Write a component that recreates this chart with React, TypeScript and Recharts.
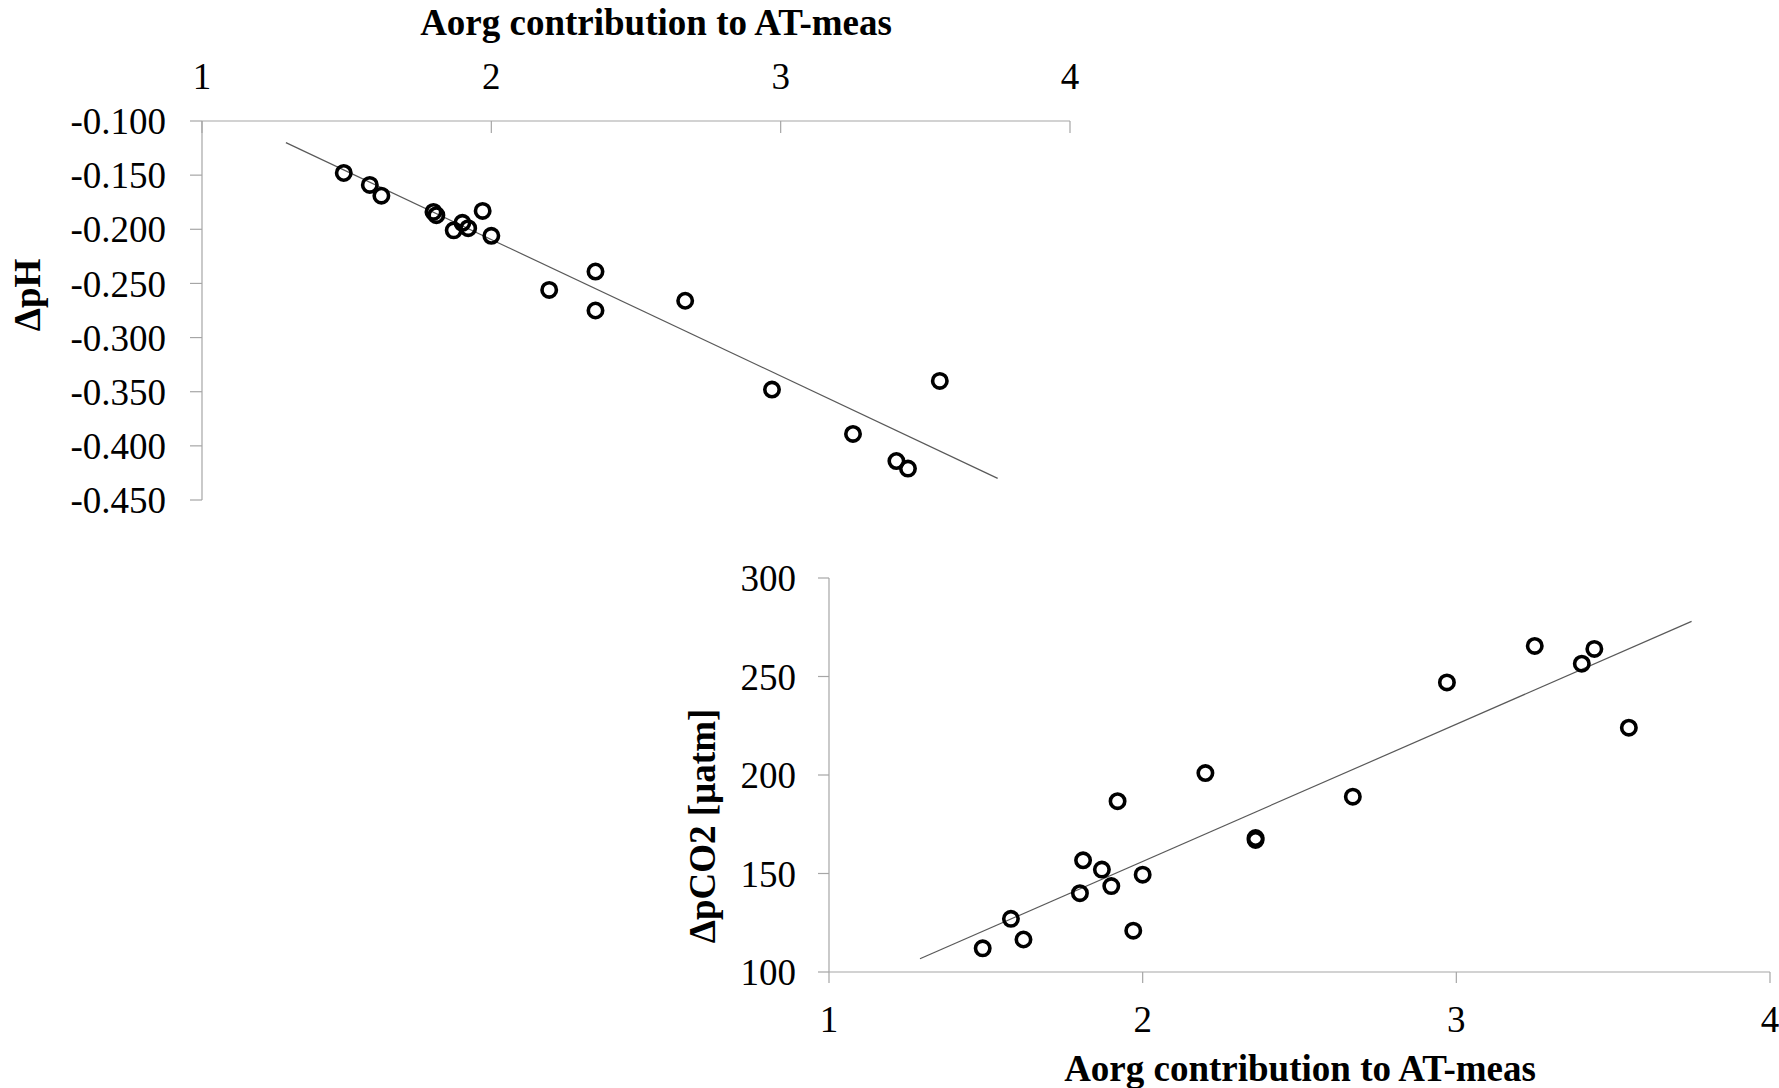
import React from 'react';
import { ScatterChart, Scatter, XAxis, YAxis, ReferenceLine } from 'recharts';

// shared x values (Aorg contribution to AT-meas)
const aorgContribution = [1.49, 1.58, 1.62, 1.80, 1.81, 1.87, 1.90, 1.92, 1.97, 2.00, 2.20, 2.36, 2.36, 2.67, 2.97, 3.25, 3.40, 3.44, 3.55];
const deltaPH = [-0.148, -0.159, -0.169, -0.184, -0.187, -0.201, -0.194, -0.199, -0.183, -0.206, -0.256, -0.239, -0.275, -0.266, -0.348, -0.389, -0.414, -0.421, -0.340];
const deltaPCO2 = [112, 127, 116.5, 140, 156.7, 152, 143.6, 186.7, 121, 149.4, 201, 167, 168, 189, 247, 265.5, 256.5, 264, 224];

// trend line end points
const trendX = [1.29, 3.75];
const trendPH = [-0.12, -0.43];
const trendPCO2 = [106.7, 278];

const xTicks = [1, 2, 3, 4];
const phTicks = [-0.45, -0.4, -0.35, -0.3, -0.25, -0.2, -0.15, -0.1];
const pco2Ticks = [100, 150, 200, 250, 300];

const SERIF = '"Liberation Serif", "Times New Roman", serif';
const AXIS_COLOR = '#a6a6a6';
const FONT_SIZE = 37;
const TOP_PLOT_Y = 121;

const phData = aorgContribution.map((x, i) => ({ x, y: deltaPH[i] }));
const pco2Data = aorgContribution.map((x, i) => ({ x, y: deltaPCO2[i] }));

const OpenCircle = (props: any) => (
  <circle cx={props.cx} cy={props.cy} r={7.2} fill="none" stroke="#000" strokeWidth={3.6} />
);

// plain serif tick text, anchored the way recharts asks
const SerifTick = (props: any) => {
  const { x, y, payload, textAnchor, orientation, fmt } = props;
  const dy = orientation === 'bottom' ? '0.71em' : '0.355em';
  const label = fmt ? fmt(payload.value) : payload.value;
  return (
    <text
      x={x}
      y={y}
      dy={dy}
      textAnchor={textAnchor}
      fill="#000"
      style={{ fontFamily: SERIF, fontSize: FONT_SIZE }}
    >
      {label}
    </text>
  );
};

// top x axis has its tick marks pointing into the plot
const TopTick = (props: any) => {
  const { x, y, payload } = props;
  return (
    <g>
      <line x1={x} y1={TOP_PLOT_Y} x2={x} y2={TOP_PLOT_Y + 12} stroke={AXIS_COLOR} strokeWidth={1.2} />
      <text x={x} y={y} textAnchor="middle" fill="#000" style={{ fontFamily: SERIF, fontSize: FONT_SIZE }}>
        {payload.value}
      </text>
    </g>
  );
};

const titleText = (text: string, x: number, y: number, rotate = false) => (
  <text
    x={x}
    y={y}
    textAnchor="middle"
    transform={rotate ? `rotate(-90, ${x}, ${y})` : undefined}
    fill="#000"
    style={{ fontFamily: SERIF, fontSize: FONT_SIZE, fontWeight: 'bold' }}
  >
    {text}
  </text>
);

export default function App() {
  return (
    <div
      style={{
        position: 'absolute',
        left: 0,
        top: 0,
        width: 1779,
        height: 1088,
        background: '#fff',
        fontFamily: SERIF,
      }}
    >
      {/* ΔpH chart */}
      <div style={{ position: 'absolute', left: 0, top: 0 }}>
        <ScatterChart width={1100} height={520} margin={{ top: 0, right: 30, bottom: 20, left: 0 }}>
          <XAxis
            type="number"
            dataKey="x"
            orientation="top"
            height={TOP_PLOT_Y}
            domain={[1, 4]}
            ticks={xTicks}
            interval={0}
            tickSize={0}
            tickMargin={32}
            tickLine={false}
            axisLine={{ stroke: AXIS_COLOR, strokeWidth: 1.2 }}
            tick={<TopTick />}
            label={{ content: () => titleText('Aorg contribution to AT-meas', 656, 35) }}
          />
          <YAxis
            type="number"
            dataKey="y"
            width={202}
            domain={[-0.45, -0.1]}
            ticks={phTicks}
            interval={0}
            tickSize={12}
            tickMargin={24}
            tick={<SerifTick fmt={(v: number) => v.toFixed(3)} />}
            tickLine={{ stroke: AXIS_COLOR, strokeWidth: 1.2 }}
            axisLine={{ stroke: AXIS_COLOR, strokeWidth: 1.2 }}
            label={{ content: () => titleText('ΔpH', 40, 295, true) }}
          />
          <ReferenceLine
            segment={[{ x: trendX[0], y: trendPH[0] }, { x: trendX[1], y: trendPH[1] }]}
            stroke="#595959"
            strokeWidth={1.2}
          />
          <Scatter data={phData} shape={OpenCircle} isAnimationActive={false} />
        </ScatterChart>
      </div>

      {/* ΔpCO2 chart */}
      <div style={{ position: 'absolute', left: 650, top: 540 }}>
        <ScatterChart width={1129} height={548} margin={{ top: 38, right: 9, bottom: 0, left: 0 }}>
          <XAxis
            type="number"
            dataKey="x"
            height={116}
            domain={[1, 4]}
            ticks={xTicks}
            interval={0}
            tickSize={11}
            tickMargin={23}
            tick={<SerifTick />}
            tickLine={{ stroke: AXIS_COLOR, strokeWidth: 1.2 }}
            axisLine={{ stroke: AXIS_COLOR, strokeWidth: 1.2 }}
            label={{ content: () => titleText('Aorg contribution to AT-meas', 650, 541) }}
          />
          <YAxis
            type="number"
            dataKey="y"
            width={179}
            domain={[100, 300]}
            ticks={pco2Ticks}
            interval={0}
            tickSize={11}
            tickMargin={22}
            tick={<SerifTick />}
            tickLine={{ stroke: AXIS_COLOR, strokeWidth: 1.2 }}
            axisLine={{ stroke: AXIS_COLOR, strokeWidth: 1.2 }}
            label={{ content: () => titleText('ΔpCO2  [µatm]', 65, 286, true) }}
          />
          <ReferenceLine
            segment={[{ x: trendX[0], y: trendPCO2[0] }, { x: trendX[1], y: trendPCO2[1] }]}
            stroke="#595959"
            strokeWidth={1.2}
          />
          <Scatter data={pco2Data} shape={OpenCircle} isAnimationActive={false} />
        </ScatterChart>
      </div>
    </div>
  );
}
